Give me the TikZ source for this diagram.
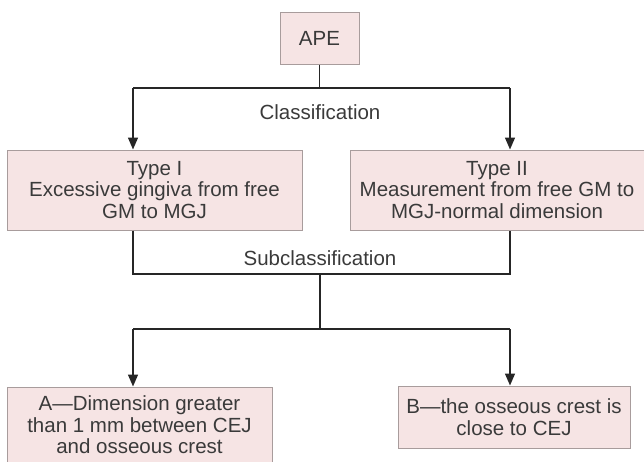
\documentclass[tikz,border=0pt]{standalone}
\usepackage{fontspec}
\setmainfont{Liberation Sans}
\usetikzlibrary{arrows.meta}
\definecolor{boxfill}{HTML}{F6E4E4}
\definecolor{boxline}{HTML}{A89C9C}
\definecolor{inkgrey}{HTML}{3A3A3A}

\begin{document}
\begin{tikzpicture}[x=1pt, y=-1pt,
  font=\fontsize{20.5}{21.5}\selectfont, text=inkgrey,
  box/.style={rectangle, draw=boxline, fill=boxfill, line width=1pt, align=center, inner sep=0pt},
  link/.style={line width=1.4pt, draw=black!85},
  tip/.style={-{Triangle[width=10pt,length=12pt]}}]

\useasboundingbox (0,0) rectangle (644,461);

\begin{scope}[minimum height=80pt, minimum width=295pt]
  \node[box, minimum height=52pt, minimum width=79pt] (APE)    at (319.5, 38) {APE};
  \node[box]                                          (TypeI)  at (154.5,190) {Type I\\Excessive gingiva from free\\GM to MGJ};
  \node[box, minimum width=294pt]                     (TypeII) at (497,  190) {Type II\\Measurement from free GM to\\MGJ-normal dimension};
\end{scope}

\begin{scope}[minimum height=62pt]
  \node[box, minimum height=76pt, minimum width=265pt] (SubA) at (139.5,425) {A---Dimension greater\\than 1 mm between CEJ\\and osseous crest};
  \node[box, minimum width=232pt]                      (SubB) at (514,  417) {B---the osseous crest is\\close to CEJ};
\end{scope}

% labels on the branches
\node (Cls)    at (320,112) {Classification};
\node (SubCls) at (320,258) {Subclassification};

% branch points
\coordinate (ClsL) at (133,88);
\coordinate (ClsR) at (510,88);
\coordinate (SubL) at (133,274);
\coordinate (SubR) at (510,274);
\coordinate (SubM) at (320,274);
\coordinate (LowL) at (133,329);
\coordinate (LowR) at (510,329);

\begin{scope}[link]
\draw (APE.south) -- (APE.south |- ClsL);
\draw (ClsL) -- (ClsR);
\draw[tip] (ClsL) -- (ClsL |- TypeI.north);
\draw[tip] (ClsR) -- (ClsR |- TypeII.north);

\draw (SubL |- TypeI.south) -- (SubL) -- (SubR) -- (SubR |- TypeII.south);
\draw (SubM) -- (SubM |- LowL);

\draw (LowL) -- (LowR);
\draw[tip] (LowL) -- (LowL |- SubA.north);
\draw[tip] (LowR) -- (LowR |- SubB.north);
\end{scope}

\end{tikzpicture}
\end{document}
